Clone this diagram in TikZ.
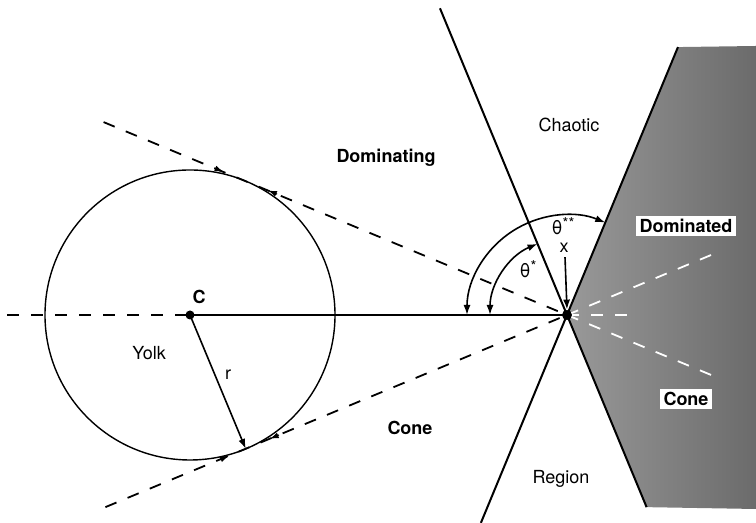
\documentclass[tikz,border=0pt]{standalone}
\usepackage{fontspec}
\setmainfont{TeX Gyre Heros}
\usetikzlibrary{arrows.meta, calc}

\begin{document}
\begin{tikzpicture}[x=0.5pt, y=0.5pt,
  lbl/.style={font=\fontsize{9}{10}\selectfont, inner sep=1pt},
  boldlbl/.style={font=\fontsize{9}{10}\selectfont\bfseries, inner sep=1pt},
  boxlbl/.style={boldlbl, fill=white, inner sep=1.8pt},
  anglbl/.style={font=\fontsize{9.5}{10}\selectfont, inner sep=0.5pt},
  dsh/.style={dash pattern=on 6pt off 6pt, line width=0.9pt},
  wdsh/.style={dsh, draw=white},
  arr/.style={-{Latex[length=5pt, width=3.5pt]}, line width=0.8pt},
  dbl/.style={{Latex[length=5pt, width=3.5pt]}-{Latex[length=5pt, width=3.5pt]}, line width=0.8pt},
  tick/.style={-{Latex[length=4.5pt, width=3pt]}, line width=0.6pt},
  dot/.style={circle, fill=black, inner sep=0pt, minimum size=#1}
]
  \useasboundingbox (0,0) rectangle (756,523);

  % Key points
  \coordinate (C) at (190,208);
  \coordinate (X) at (567,208);
  \coordinate (T1) at ($(C)+(67.4:145)$);
  \coordinate (T2) at ($(C)+(-67.4:145)$);
  \coordinate (Atop) at ($(X)+(112.5:332)$);
  \coordinate (Abot) at ($(X)+(-67.5:208)$);
  \coordinate (Btop) at ($(X)+(67.5:290)$);
  \coordinate (Bbot) at ($(X)+(247.5:225)$);

  % Dominated cone (shaded)
  \shade[left color=black!40, middle color=black!72, right color=black!58]
    (Btop) -- (X) -- (Abot) -- (756,14) -- (756,477) -- cycle;
  \draw[wdsh] (X) -- ($(X)+(22.6:160)$);
  \draw[wdsh] (X) -- ($(X)+(-22.6:160)$);
  \draw[wdsh] (X) -- (632,208);

  % Yolk
  \draw[line width=0.7pt] (C) circle[radius=145];

  % Tangent lines
  \draw[dsh] ($(X)+(157.4:502)$) -- (X);
  \draw[dsh] ($(X)+(202.6:500)$) -- (X);
  \draw[dsh] (7,208) -- (C);
  \draw[tick] ($(T1)+(157.4:34)$) -- ($(T1)+(157.4:24)$);
  \draw[tick] ($(T1)+(-22.6:34)$) -- ($(T1)+(-22.6:24)$);
  \draw[tick] ($(T2)+(202.6:28)$) -- ($(T2)+(202.6:18)$);
  \draw[tick] ($(T2)+(22.6:36)$) -- ($(T2)+(22.6:26)$);

  % Lines through x
  \draw[line width=1pt] (C) -- (X);
  \draw[line width=1pt] (Atop) -- (Abot);
  \draw[line width=1pt] (Bbot) -- (Btop);

  % Angles
  \draw[dbl] ($(X)+(180:100)$) arc[start angle=180, end angle=67.5, radius=100];
  \draw[dbl] ($(X)+(180:77)$) arc[start angle=180, end angle=112.5, radius=77];

  % Points
  \node[dot=4.5pt] (Cdot) at (C) {};
  \node[dot=5pt] (Xdot) at (X) {};
  \draw[arr] (C) -- (T2);

  % Labels
  \node[boldlbl] (lC) at (199,226) {C};
  \node[lbl] (lr) at (228,148) {r};
  \node[lbl] (lyolk) at (149,170) {Yolk};
  \node[lbl, inner sep=0.5pt] (lx) at (564,275) {x};
  \draw[arr] (lx.south) ++(1,-3) -- (Xdot.north);
  \node[anglbl] (lth2) at (563,297) {θ\raisebox{0.55ex}{\fontsize{7.5}{8}\selectfont **}};
  \node[anglbl] (lth1) at (528,254) {θ\raisebox{0.55ex}{\fontsize{7.5}{8}\selectfont *}};
  \node[boldlbl] (ldom) at (386,365) {Dominating};
  \node[boldlbl] (lcone) at (410,95) {Cone};
  \node[lbl] (lchaotic) at (569,398) {Chaotic};
  \node[lbl] (lregion) at (561,44) {Region};
  \node[boxlbl] (ldomd) at (686,297) {Dominated};
  \node[boxlbl] (lcone2) at (686,124) {Cone};
\end{tikzpicture}
\end{document}
